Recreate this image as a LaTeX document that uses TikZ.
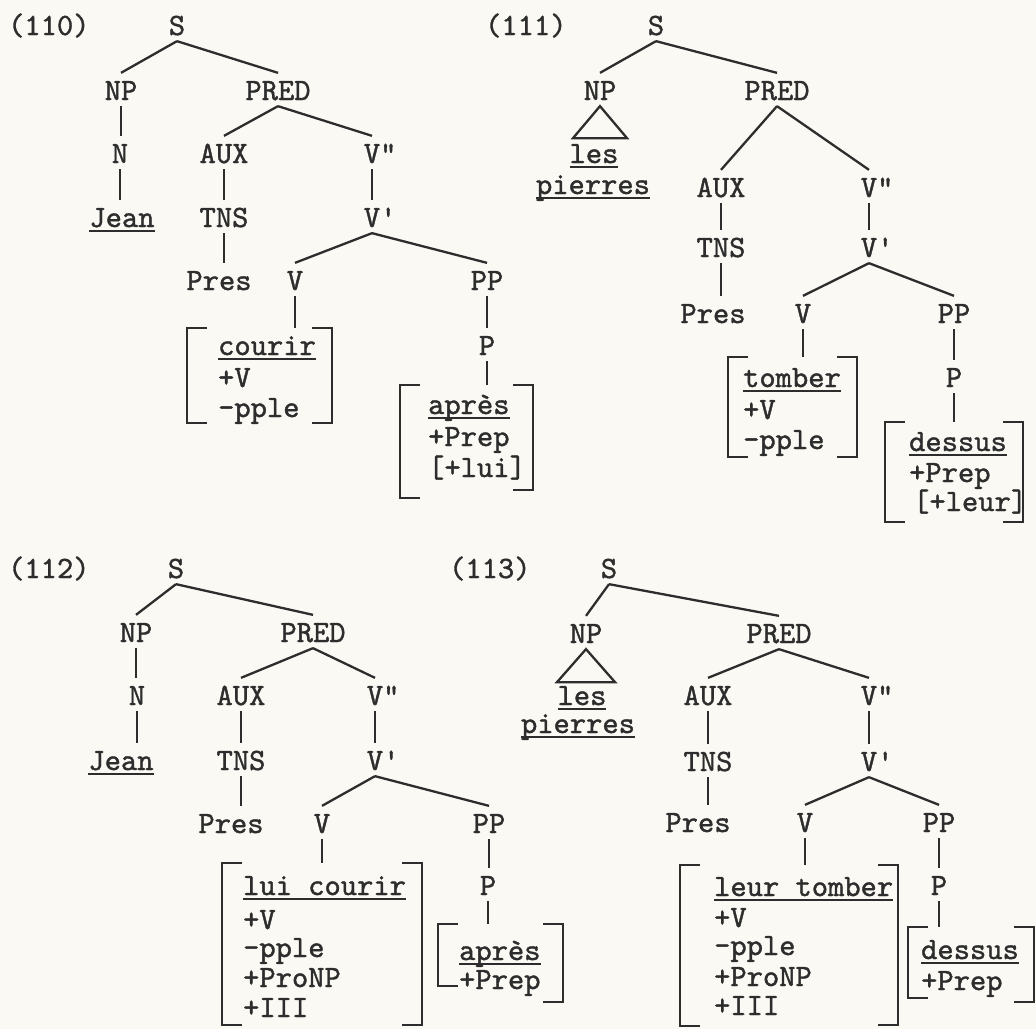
\documentclass[tikz,border=0pt]{standalone}
\usepackage{fontspec}
\setmonofont{lmmono10-regular.otf}[FakeBold=1.2]
\definecolor{paper}{RGB}{250,249,244}
\definecolor{ink}{RGB}{45,45,45}
% underlined word, as typed with underscores
\newcommand\uword[1]{\setbox0\hbox{#1}\rlap{\rule[-4.8pt]{\wd0}{1.7pt}}\box0}
% feature matrix brackets: left x, right x, top, bottom left, bottom right
\newcommand\fbrk[5]{%
  \draw (#1+20,#3) -- (#1,#3) -- (#1,#4) -- (#1+20,#4);
  \draw (#2-20,#3) -- (#2,#3) -- (#2,#5) -- (#2-20,#5);}
\begin{document}
\begin{tikzpicture}[x=1pt, y=-1pt, line width=2.3pt, color=ink,
  lab/.style={font=\ttfamily\fontsize{31}{31}\selectfont, inner sep=0pt,
    text height=26pt, text depth=5pt, anchor=base},
  fl/.style={lab, anchor=base west}]
\useasboundingbox (0,0) rectangle (1036,1029);
\fill[paper] (0,0) rectangle (1036,1029);

% (110)
\node[fl] (na) at (7,35) {(110)};
\node[lab] (Sa) at (177,35) {S};
\node[lab] (NPa) at (121,100) {NP};
\node[lab] (PREDa) at (278,100) {PRED};
\node[lab] (Na) at (120,163) {N};
\node[lab] (AUXa) at (224,163) {AUX};
\node[lab] (V2a) at (372,163) {V\rlap{"}};
\node[lab] (Jeana) at (122,227) {\uword{Jean}};
\node[lab] (TNSa) at (224,227) {TNS};
\node[lab] (V1a) at (372,227) {V\rlap{'}};
\node[lab] (Presa) at (219,290) {Pres};
\node[lab] (Va) at (295,290) {V};
\node[lab] (PPa) at (487,290) {PP};
\node[lab] (Pa) at (487,355) {P};
\coordinate (mca) at (187,328);
\node[fl] (ca1) at (217,355) {\uword{courir}};
\node[fl] (ca2) at (217,387) {+V};
\node[fl] (ca3) at (217,417) {-pple};
\fbrk{187}{332}{328}{423}{423}
\coordinate (mpa) at (400,385);
\node[fl] (pa1) at (427,414) {\uword{après}};
\node[fl] (pa2) at (427,446) {+Prep};
\node[fl] (pa3) at (427,477) {[+lui]};
\fbrk{400}{533}{385}{498}{490}

% (111)
\node[fl] (nb) at (484,35) {(111)};
\node[lab] (Sb) at (656,35) {S};
\node[lab] (NPb) at (600,100) {NP};
\node[lab] (PREDb) at (777,100) {PRED};
\draw (NPb.south) -- ++(-27,32) -- ++(54,0) -- cycle;
\node[lab] (lesb) at (594,163) {\uword{les}};
\node[lab] (pierb) at (593,194) {\uword{pierres}};
\node[lab] (AUXb) at (721,197) {AUX};
\node[lab] (V2b) at (869,197) {V\rlap{"}};
\node[lab] (TNSb) at (721,257) {TNS};
\node[lab] (V1b) at (869,257) {V\rlap{'}};
\node[lab] (Presb) at (713,323) {Pres};
\node[lab] (Vb) at (803,323) {V};
\node[lab] (PPb) at (954,323) {PP};
\node[lab] (Pb) at (954,387) {P};
\coordinate (mtb) at (728,357);
\node[fl] (tb1) at (742,387) {\uword{tomber}};
\node[fl] (tb2) at (742,419) {+V};
\node[fl] (tb3) at (742,449) {-pple};
\fbrk{728}{857}{357}{457}{457}
\coordinate (mdb) at (885,422);
\node[fl] (db1) at (908,451) {\uword{dessus}};
\node[fl] (db2) at (908,482) {+Prep};
\node[fl] (db3) at (912,511) {[+leur]};
\fbrk{885}{1023}{422}{522}{522}

% (112)
\node[fl] (nc) at (7,578) {(112)};
\node[lab] (Sc) at (176,578) {S};
\node[lab] (NPc) at (136,642) {NP};
\node[lab] (PREDc) at (313,642) {PRED};
\node[lab] (Nc) at (137,705) {N};
\node[lab] (AUXc) at (241,705) {AUX};
\node[lab] (V2c) at (375,705) {V\rlap{"}};
\node[lab] (Jeanc) at (121,770) {\uword{Jean}};
\node[lab] (TNSc) at (241,770) {TNS};
\node[lab] (V1c) at (375,770) {V\rlap{'}};
\node[lab] (Presc) at (231,833) {Pres};
\node[lab] (Vc) at (322,833) {V};
\node[lab] (PPc) at (489,833) {PP};
\node[lab] (Pc) at (488,895) {P};
\coordinate (mcc) at (222,863);
\node[fl] (cc1) at (242,895) {\uword{lui courir}};
\node[fl] (cc2) at (242,929) {+V};
\node[fl] (cc3) at (242,957) {-pple};
\node[fl] (cc4) at (242,987) {+ProNP};
\node[fl] (cc5) at (242,1017) {+III};
\fbrk{222}{422}{863}{1025}{1025}
\coordinate (mpc) at (438,924);
\node[fl] (pc1) at (458,960) {\uword{après}};
\node[fl] (pc2) at (458,989) {+Prep};
\fbrk{438}{563}{924}{986}{1002}

% (113)
\node[fl] (nd) at (448,578) {(113)};
\node[lab] (Sd) at (609,578) {S};
\node[lab] (NPd) at (586,643) {NP};
\node[lab] (PREDd) at (779,643) {PRED};
\draw (NPd.south) -- ++(-29,33) -- ++(58,0) -- cycle;
\node[lab] (lesd) at (582,705) {\uword{les}};
\node[lab] (pierd) at (578,733) {\uword{pierres}};
\node[lab] (AUXd) at (708,705) {AUX};
\node[lab] (V2d) at (869,705) {V\rlap{"}};
\node[lab] (TNSd) at (708,771) {TNS};
\node[lab] (V1d) at (869,771) {V\rlap{'}};
\node[lab] (Presd) at (698,832) {Pres};
\node[lab] (Vd) at (805,832) {V};
\node[lab] (PPd) at (939,832) {PP};
\node[lab] (Pd) at (939,895) {P};
\coordinate (mtd) at (680,865);
\node[fl] (td1) at (713,896) {\uword{leur tomber}};
\node[fl] (td2) at (713,927) {+V};
\node[fl] (td3) at (713,955) {-pple};
\node[fl] (td4) at (713,986) {+ProNP};
\node[fl] (td5) at (713,1015) {+III};
\fbrk{680}{898}{865}{1026}{1025}
\coordinate (mdd) at (908,927);
\node[fl] (dd1) at (920,959) {\uword{dessus}};
\node[fl] (dd2) at (920,990) {+Prep};
\fbrk{908}{1034}{927}{998}{1002}

% branches
\foreach \a/\b in {Sa/NPa, Sa/PREDa, PREDa/AUXa, PREDa/V2a, V1a/Va, V1a/PPa,
    Sb/NPb, Sb/PREDb, PREDb/AUXb, PREDb/V2b, V1b/Vb, V1b/PPb,
    Sc/NPc, Sc/PREDc, PREDc/AUXc, PREDc/V2c, V1c/Vc, V1c/PPc,
    Sd/NPd, Sd/PREDd, PREDd/AUXd, PREDd/V2d, V1d/Vd, V1d/PPd}
  \draw (\a.south) -- (\b.north);
\foreach \a/\b in {NPa/Na, Na/Jeana, AUXa/TNSa, TNSa/Presa, V2a/V1a, PPa/Pa,
    AUXb/TNSb, TNSb/Presb, V2b/V1b, PPb/Pb,
    NPc/Nc, Nc/Jeanc, AUXc/TNSc, TNSc/Presc, V2c/V1c, PPc/Pc,
    AUXd/TNSd, TNSd/Presd, V2d/V1d, PPd/Pd}
  \draw (\a.south) -- (\a.south |- \b.north);
\foreach \a/\b in {Va/mca, Pa/mpa, Vb/mtb, Pb/mdb, Vc/mcc, Pc/mpc, Vd/mtd, Pd/mdd}
  \draw (\a.south) -- (\a.south |- \b);
\end{tikzpicture}
\end{document}
